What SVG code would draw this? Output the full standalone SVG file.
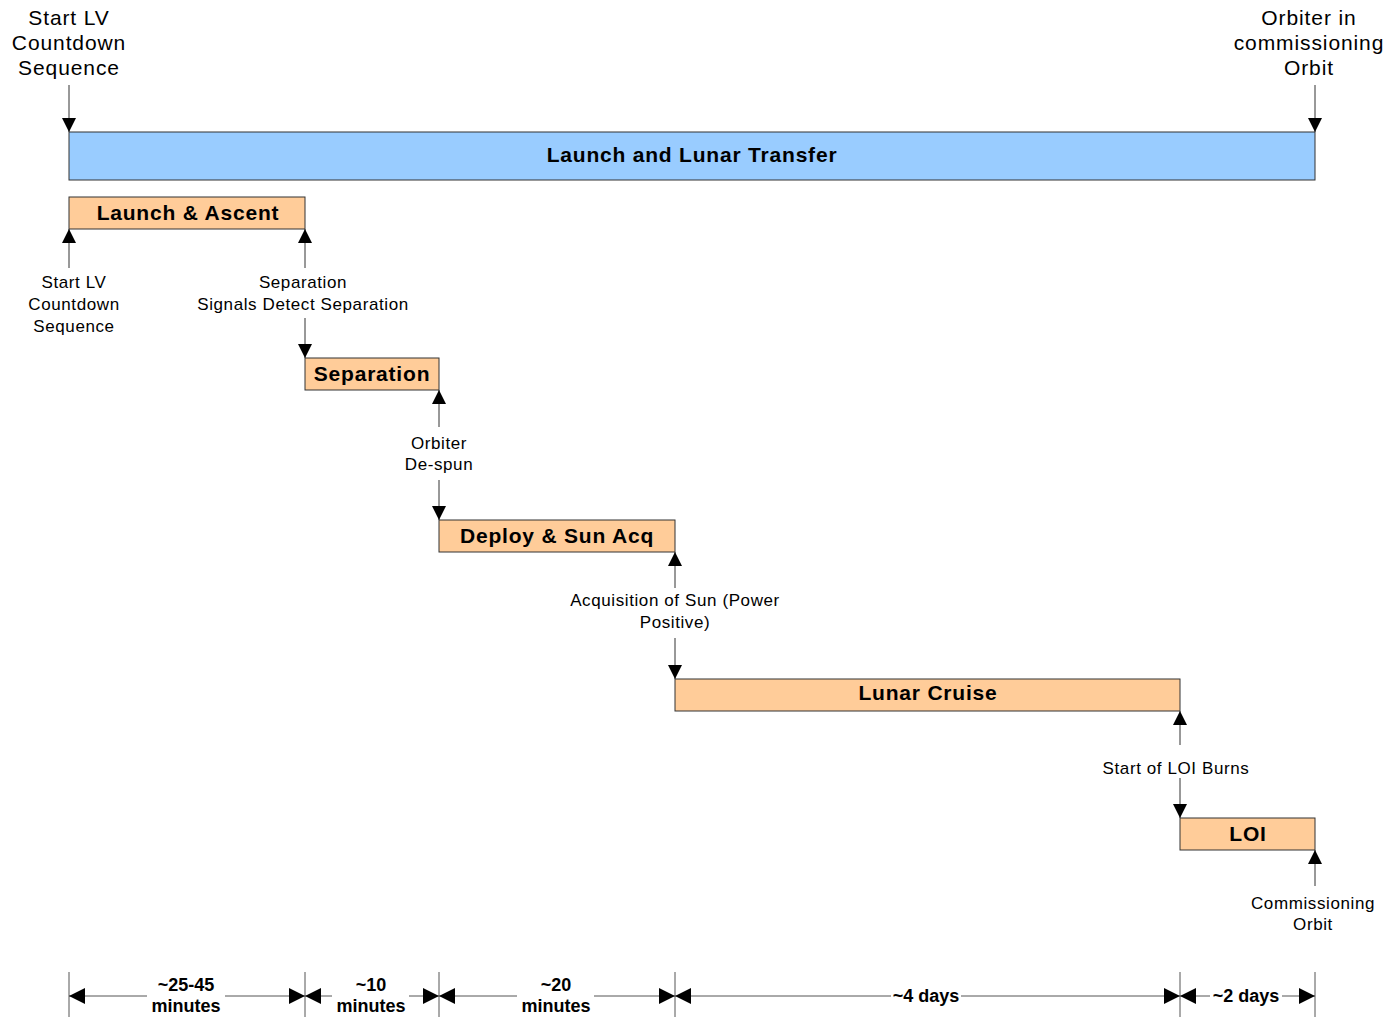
<svg xmlns="http://www.w3.org/2000/svg" width="1389" height="1017" viewBox="0 0 1389 1017">
  <style>
    .bar { stroke: #333; stroke-width: 1; }
    .phase { fill: #FFCC99; }
    .title { font-family: "Liberation Sans", Arial, sans-serif; font-weight: bold; font-size: 21px; letter-spacing: 0.8px; text-anchor: middle; fill: #000; }
    .big { font-family: "Liberation Sans", Arial, sans-serif; font-size: 21px; letter-spacing: 0.9px; text-anchor: middle; fill: #000; }
    .lbl { font-family: "Liberation Sans", Arial, sans-serif; font-size: 17px; letter-spacing: 0.6px; text-anchor: middle; fill: #000; }
    .dim { font-family: "Liberation Sans Narrow", "Liberation Sans", Arial, sans-serif; font-weight: bold; font-size: 18px; text-anchor: middle; fill: #000; }
    .conn { stroke: #333; stroke-width: 1; fill: none; }
    .dline { stroke: #555; stroke-width: 1; fill: none; }
    .tick { stroke: #555; stroke-width: 1; }
  </style>
  <defs>
    <marker id="head" markerUnits="userSpaceOnUse" markerWidth="14" markerHeight="14" refX="14" refY="7" orient="auto">
      <path d="M0,0 L14,7 L0,14 z" fill="#000"/>
    </marker>
    <marker id="dimhead" markerUnits="userSpaceOnUse" markerWidth="16" markerHeight="16" refX="16" refY="8" orient="auto">
      <path d="M0,0 L16,8 L0,16 z" fill="#000"/>
    </marker>
  </defs>
  <rect width="1389" height="1017" fill="#fff"/>

  <!-- overall phase -->
  <g id="launch-lunar-transfer">
    <rect class="bar" x="69" y="132" width="1246" height="48" fill="#99CCFF"/>
    <text class="title" x="692" y="162">Launch and Lunar Transfer</text>
  </g>

  <!-- sub-phases -->
  <g id="launch-ascent">
    <rect class="bar phase" x="69" y="197" width="236" height="32"/>
    <text class="title" x="188" y="220">Launch &amp; Ascent</text>
  </g>
  <g id="separation">
    <rect class="bar phase" x="305" y="358" width="134" height="32"/>
    <text class="title" x="372" y="381">Separation</text>
  </g>
  <g id="deploy-sun-acq">
    <rect class="bar phase" x="439" y="520" width="236" height="32"/>
    <text class="title" x="557" y="543">Deploy &amp; Sun Acq</text>
  </g>
  <g id="lunar-cruise">
    <rect class="bar phase" x="675" y="679" width="505" height="32"/>
    <text class="title" x="928" y="700">Lunar Cruise</text>
  </g>
  <g id="loi">
    <rect class="bar phase" x="1180" y="818" width="135" height="32"/>
    <text class="title" x="1248" y="841">LOI</text>
  </g>

  <!-- event labels -->
  <g id="event-labels">
    <text class="big" x="69" y="25">Start LV</text>
    <text class="big" x="69" y="50">Countdown</text>
    <text class="big" x="69" y="75">Sequence</text>
    <text class="big" x="1309" y="25">Orbiter in</text>
    <text class="big" x="1309" y="50">commissioning</text>
    <text class="big" x="1309" y="75">Orbit</text>

    <text class="lbl" x="74" y="288">Start LV</text>
    <text class="lbl" x="74" y="310">Countdown</text>
    <text class="lbl" x="74" y="332">Sequence</text>
    <text class="lbl" x="303" y="288">Separation</text>
    <text class="lbl" x="303" y="310">Signals Detect Separation</text>
    <text class="lbl" x="439" y="449">Orbiter</text>
    <text class="lbl" x="439" y="470">De-spun</text>
    <text class="lbl" x="675" y="606">Acquisition of Sun (Power</text>
    <text class="lbl" x="675" y="628">Positive)</text>
    <text class="lbl" x="1176" y="774">Start of LOI Burns</text>
    <text class="lbl" x="1313" y="909">Commissioning</text>
    <text class="lbl" x="1313" y="930">Orbit</text>
  </g>

  <!-- connectors -->
  <g id="connectors">
    <line class="conn" x1="69" y1="85" x2="69" y2="132" marker-end="url(#head)"/>
    <line class="conn" x1="1315" y1="85" x2="1315" y2="132" marker-end="url(#head)"/>
    <line class="conn" x1="69" y1="268" x2="69" y2="229" marker-end="url(#head)"/>
    <line class="conn" x1="305" y1="268" x2="305" y2="229" marker-end="url(#head)"/>
    <line class="conn" x1="305" y1="318" x2="305" y2="358" marker-end="url(#head)"/>
    <line class="conn" x1="439" y1="427" x2="439" y2="390" marker-end="url(#head)"/>
    <line class="conn" x1="439" y1="480" x2="439" y2="520" marker-end="url(#head)"/>
    <line class="conn" x1="675" y1="588" x2="675" y2="552" marker-end="url(#head)"/>
    <line class="conn" x1="675" y1="638" x2="675" y2="679" marker-end="url(#head)"/>
    <line class="conn" x1="1180" y1="745" x2="1180" y2="711" marker-end="url(#head)"/>
    <line class="conn" x1="1180" y1="778" x2="1180" y2="818" marker-end="url(#head)"/>
    <line class="conn" x1="1315" y1="886" x2="1315" y2="850" marker-end="url(#head)"/>
  </g>

  <!-- duration scale -->
  <g id="duration-scale">
    <line class="tick" x1="69" y1="972" x2="69" y2="1017"/>
    <line class="tick" x1="305" y1="972" x2="305" y2="1017"/>
    <line class="tick" x1="439" y1="972" x2="439" y2="1017"/>
    <line class="tick" x1="675" y1="972" x2="675" y2="1017"/>
    <line class="tick" x1="1180" y1="972" x2="1180" y2="1017"/>
    <line class="tick" x1="1315" y1="972" x2="1315" y2="1017"/>

    <line class="dline" x1="147" y1="996" x2="69" y2="996" marker-end="url(#dimhead)"/>
    <line class="dline" x1="225" y1="996" x2="305" y2="996" marker-end="url(#dimhead)"/>
    <text class="dim" x="186" y="991">~25-45</text>
    <text class="dim" x="186" y="1012">minutes</text>

    <line class="dline" x1="332" y1="996" x2="305" y2="996" marker-end="url(#dimhead)"/>
    <line class="dline" x1="409" y1="996" x2="439" y2="996" marker-end="url(#dimhead)"/>
    <text class="dim" x="371" y="991">~10</text>
    <text class="dim" x="371" y="1012">minutes</text>

    <line class="dline" x1="517" y1="996" x2="439" y2="996" marker-end="url(#dimhead)"/>
    <line class="dline" x1="594" y1="996" x2="675" y2="996" marker-end="url(#dimhead)"/>
    <text class="dim" x="556" y="991">~20</text>
    <text class="dim" x="556" y="1012">minutes</text>

    <line class="dline" x1="891" y1="996" x2="675" y2="996" marker-end="url(#dimhead)"/>
    <line class="dline" x1="961" y1="996" x2="1180" y2="996" marker-end="url(#dimhead)"/>
    <text class="dim" x="926" y="1002">~4 days</text>

    <line class="dline" x1="1210" y1="996" x2="1180" y2="996" marker-end="url(#dimhead)"/>
    <line class="dline" x1="1282" y1="996" x2="1315" y2="996" marker-end="url(#dimhead)"/>
    <text class="dim" x="1246" y="1002">~2 days</text>
  </g>
</svg>
